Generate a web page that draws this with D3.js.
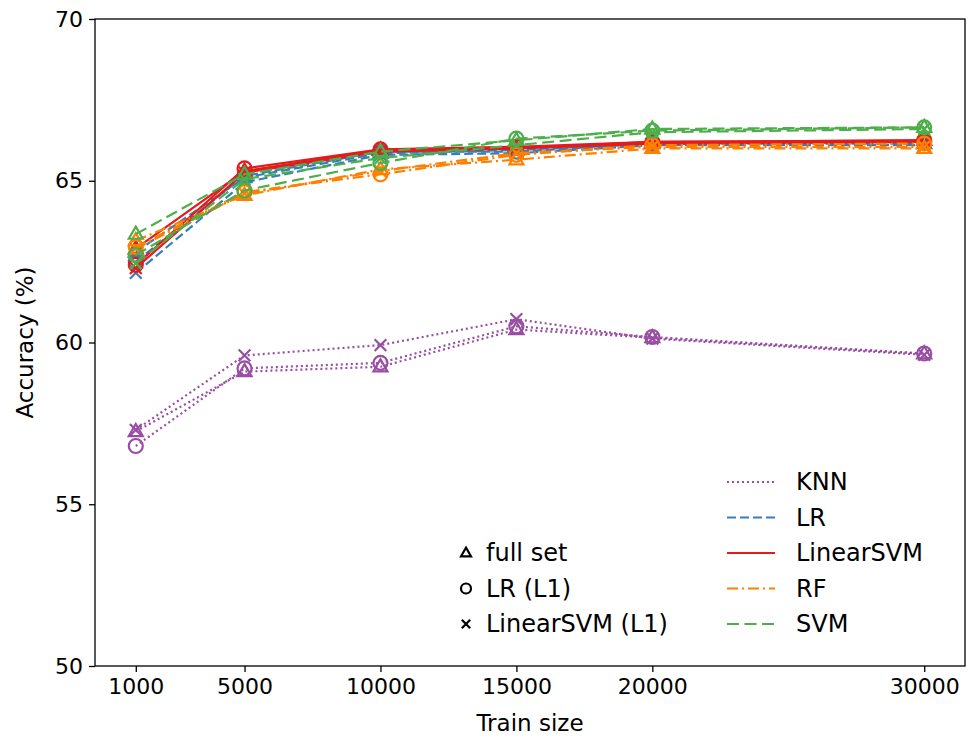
<!DOCTYPE html>
<html>
<head>
<meta charset="utf-8">
<script src="https://cdn.jsdelivr.net/npm/d3@7"></script>
<style>
body { margin: 0; background: #fff; }
text { font-family: "DejaVu Sans", sans-serif; fill: #000; }
</style>
</head>
<body>
<script>
// train sizes on x, accuracy (%) on y
var trainSizes = [1000, 5000, 10000, 15000, 20000, 30000];
var classifiers = ['KNN', 'LR', 'LinearSVM', 'RF', 'SVM'];
var featureSets = ['full set', 'LR (L1)', 'LinearSVM (L1)'];
var yTicks = [50, 55, 60, 65, 70];

// one array per classifier / feature set
var knnFull = [57.25, 59.10, 59.25, 60.40, 60.15, 59.65];
var knnLR = [56.80, 59.20, 59.37, 60.50, 60.17, 59.66];
var knnSVM = [57.30, 59.60, 59.92, 60.72, 60.12, 59.62];
var lrFull = [62.80, 65.10, 65.85, 65.95, 66.15, 66.15];
var lrLR = [62.50, 65.15, 65.90, 65.90, 66.15, 66.20];
var lrSVM = [62.15, 64.95, 65.80, 65.85, 66.10, 66.10];
var linsvmFull = [62.90, 65.30, 65.95, 66.00, 66.20, 66.25];
var linsvmLR = [62.40, 65.38, 65.97, 66.05, 66.20, 66.25];
var linsvmSVM = [62.30, 65.25, 65.90, 66.00, 66.15, 66.20];
var rfFull = [63.15, 64.55, 65.35, 65.65, 66.00, 66.00];
var rfLR = [62.95, 64.65, 65.20, 65.80, 66.10, 66.15];
var rfSVM = [62.90, 64.60, 65.30, 65.85, 66.05, 66.05];
var svmFull = [63.35, 65.20, 65.90, 66.25, 66.60, 66.65];
var svmLR = [62.70, 64.70, 65.55, 66.30, 66.55, 66.65];
var svmSVM = [62.45, 65.05, 65.70, 66.10, 66.50, 66.60];

var results = {
  'KNN': [knnFull, knnLR, knnSVM],
  'LR': [lrFull, lrLR, lrSVM],
  'LinearSVM': [linsvmFull, linsvmLR, linsvmSVM],
  'RF': [rfFull, rfLR, rfSVM],
  'SVM': [svmFull, svmLR, svmSVM]
};

var colors = {KNN: '#984ea3', LR: '#377eb8', LinearSVM: '#e41a1c', RF: '#ff7f00', SVM: '#4daf4a'};
var dashes = {KNN: '2,3', LR: '9,4', LinearSVM: null, RF: '11,4,2,4', SVM: '12,5.5'};

var width = 977, height = 738;
var margin = {left: 95, right: 12, top: 19, bottom: 72};

var svg = d3.select('body').append('svg')
  .attr('width', width)
  .attr('height', height);

var x = d3.scaleLinear().domain([-500, 31500]).range([margin.left, width - margin.right]);
var y = d3.scaleLinear().domain([50, 70]).range([height - margin.bottom, margin.top]);

// marker shapes
var marker = function(g, i, color, size) {
  if (i == 0) {
    var h = size * 0.866;
    g.append('path')
      .attr('d', 'M0,' + (-h * 0.62) + 'L' + (size / 2) + ',' + (h * 0.38) + 'L' + (-size / 2) + ',' + (h * 0.38) + 'Z')
      .attr('fill', 'none').attr('stroke', color).attr('stroke-width', 2.2);
  } else if (i == 1) {
    g.append('circle').attr('r', size / 2)
      .attr('fill', 'none').attr('stroke', color).attr('stroke-width', 2.2);
  } else {
    var s = size * 0.42;
    g.append('path')
      .attr('d', 'M' + (-s) + ',' + (-s) + 'L' + s + ',' + s + 'M' + (-s) + ',' + s + 'L' + s + ',' + (-s))
      .attr('fill', 'none').attr('stroke', color).attr('stroke-width', 2.2);
  }
};

var line = d3.line()
  .x(function(d, i) { return x(trainSizes[i]); })
  .y(function(d) { return y(d); });

var plot = svg.append('g');
classifiers.forEach(function(c) {
  results[c].forEach(function(vals, i) {
    plot.append('path')
      .datum(vals)
      .attr('d', line)
      .attr('fill', 'none')
      .attr('stroke', colors[c])
      .attr('stroke-width', 2.2)
      .attr('stroke-dasharray', dashes[c]);
    vals.forEach(function(v, j) {
      var g = plot.append('g')
        .attr('transform', 'translate(' + x(trainSizes[j]) + ',' + y(v) + ')');
      marker(g, i, colors[c], 14);
    });
  });
});

// frame
svg.append('rect')
  .attr('x', margin.left).attr('y', margin.top)
  .attr('width', width - margin.left - margin.right)
  .attr('height', height - margin.top - margin.bottom)
  .attr('fill', 'none').attr('stroke', '#000').attr('stroke-width', 1.3);

var xAxis = svg.append('g')
  .attr('transform', 'translate(0,' + (height - margin.bottom) + ')')
  .call(d3.axisBottom(x).tickValues(trainSizes).tickSize(6).tickPadding(6).tickFormat(d3.format('d')));
var yAxis = svg.append('g')
  .attr('transform', 'translate(' + margin.left + ',0)')
  .call(d3.axisLeft(y).tickValues(yTicks).tickSize(6).tickPadding(6));
[xAxis, yAxis].forEach(function(a) {
  a.select('.domain').remove();
  a.selectAll('line').attr('stroke', '#000').attr('stroke-width', 1.3);
  a.selectAll('text').style('font-size', '22px').style('font-family', '"DejaVu Sans", sans-serif').attr('fill', '#000');
});

svg.append('text')
  .attr('x', (margin.left + width - margin.right) / 2)
  .attr('y', 731)
  .attr('text-anchor', 'middle')
  .style('font-size', '23px')
  .text('Train size');
svg.append('text')
  .attr('transform', 'translate(33,' + ((margin.top + height - margin.bottom) / 2) + ') rotate(-90)')
  .attr('text-anchor', 'middle')
  .style('font-size', '23px')
  .text('Accuracy (%)');

// legend: feature sets (markers)
featureSets.forEach(function(f, i) {
  var yy = 553 + i * 35.5;
  var g = svg.append('g').attr('transform', 'translate(466,' + yy + ')');
  marker(g, i, '#000', 10);
  svg.append('text').attr('x', 486).attr('y', yy).attr('dy', '0.35em')
    .style('font-size', '24px').text(f);
});

// legend: classifiers (line styles)
classifiers.forEach(function(c, i) {
  var yy = 482 + i * 35.5;
  svg.append('line')
    .attr('x1', 727).attr('x2', 775).attr('y1', yy).attr('y2', yy)
    .attr('stroke', colors[c]).attr('stroke-width', 2.2)
    .attr('stroke-dasharray', dashes[c]);
  svg.append('text').attr('x', 796).attr('y', yy).attr('dy', '0.35em')
    .style('font-size', '24px').text(c);
});
</script>
</body>
</html>
